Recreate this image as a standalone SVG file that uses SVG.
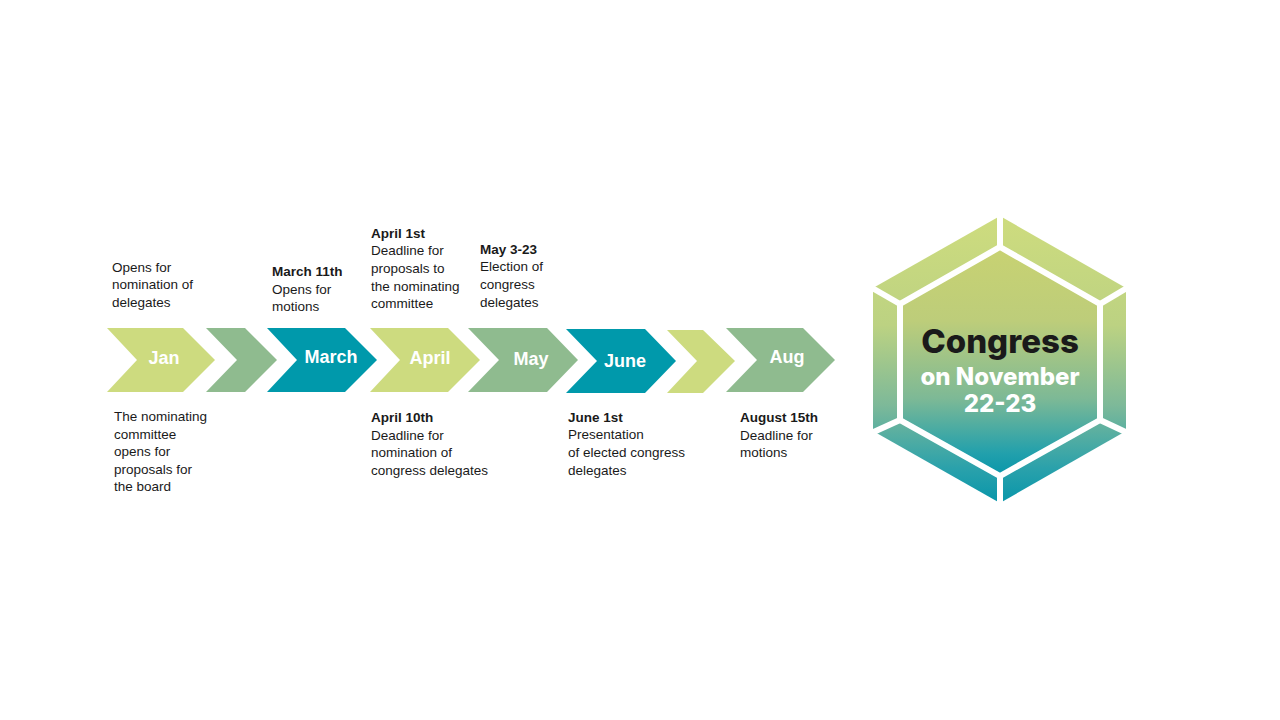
<svg xmlns="http://www.w3.org/2000/svg" width="1280" height="720" viewBox="0 0 1280 720">
<defs>
<style>
.lg{fill:#CDDB7F}.gr{fill:#8FBB8F}.te{fill:#0099AB}
.m{font-family:"Liberation Sans",Arial,sans-serif;font-weight:bold;font-size:18px;fill:#fff;text-anchor:middle}
.t{font-family:"Liberation Sans",Arial,sans-serif;font-size:13.5px;fill:#1a1a1a}
.b{font-weight:bold}
.h{font-family:Inter,"Liberation Sans",sans-serif;font-weight:800;text-anchor:middle}
</style>
<linearGradient id="go" gradientUnits="userSpaceOnUse" x1="0" y1="216" x2="0" y2="503">
<stop offset="0" stop-color="#CEDC7E"/><stop offset="0.38" stop-color="#BCD282"/><stop offset="0.66" stop-color="#7DB999"/><stop offset="0.88" stop-color="#2AA1AB"/><stop offset="1" stop-color="#0896AA"/>
</linearGradient>
<linearGradient id="gi" gradientUnits="userSpaceOnUse" x1="0" y1="248" x2="0" y2="476">
<stop offset="0" stop-color="#C8D272"/><stop offset="0.32" stop-color="#BDCD7A"/><stop offset="0.66" stop-color="#7DB996"/><stop offset="0.9" stop-color="#22A0AC"/><stop offset="1" stop-color="#0896AA"/>
</linearGradient>
</defs>
<rect width="1280" height="720" fill="#fff"/>
<g id="chevrons">
<g id="jan"><polygon class="lg" points="107,328 183,328 215,360 183,392 107,392 137,360"/><text class="m" x="164" y="364">Jan</text></g>
<g id="feb"><polygon class="gr" points="206,328 245,328 277,360 245,392 206,392 237,360"/></g>
<g id="march"><polygon class="te" points="267,328 345,328 377,360 345,392 267,392 297,360"/><text class="m" x="331" y="363">March</text></g>
<g id="april"><polygon class="lg" points="370,328 448,328 480,360 448,392 370,392 400,360"/><text class="m" x="430" y="364">April</text></g>
<g id="may"><polygon class="gr" points="468,328 547,328 578,360 547,392 468,392 499,360"/><text class="m" x="531" y="365">May</text></g>
<g id="june"><polygon class="te" points="566,329 645,329 676,361 645,393 566,393 597,361"/><text class="m" x="625" y="367">June</text></g>
<g id="july"><polygon class="lg" points="667,330 703,330 735,361 703,393 667,393 697,361"/></g>
<g id="aug"><polygon class="gr" points="726,328 803,328 835,360 803,392 726,392 757,360"/><text class="m" x="787" y="363">Aug</text></g>
</g>
<g id="notes-top">
<text class="t" x="112" y="272">Opens for</text>
<text class="t" x="112" y="289">nomination of</text>
<text class="t" x="112" y="307">delegates</text>
<text class="t b" x="272" y="276">March 11th</text>
<text class="t" x="272" y="294">Opens for</text>
<text class="t" x="272" y="311">motions</text>
<text class="t b" x="371" y="238">April 1st</text>
<text class="t" x="371" y="255">Deadline for</text>
<text class="t" x="371" y="273">proposals to</text>
<text class="t" x="371" y="291">the nominating</text>
<text class="t" x="371" y="308">committee</text>
<text class="t b" x="480" y="254">May 3-23</text>
<text class="t" x="480" y="271">Election of</text>
<text class="t" x="480" y="289">congress</text>
<text class="t" x="480" y="307">delegates</text>
</g>
<g id="notes-bottom">
<text class="t" x="114" y="421">The nominating</text>
<text class="t" x="114" y="439">committee</text>
<text class="t" x="114" y="456">opens for</text>
<text class="t" x="114" y="474">proposals for</text>
<text class="t" x="114" y="491">the board</text>
<text class="t b" x="371" y="422">April 10th</text>
<text class="t" x="371" y="440">Deadline for</text>
<text class="t" x="371" y="457">nomination of</text>
<text class="t" x="371" y="475">congress delegates</text>
<text class="t b" x="568" y="422">June 1st</text>
<text class="t" x="568" y="439">Presentation</text>
<text class="t" x="568" y="457">of elected congress</text>
<text class="t" x="568" y="475">delegates</text>
<text class="t b" x="740" y="422">August 15th</text>
<text class="t" x="740" y="440">Deadline for</text>
<text class="t" x="740" y="457">motions</text>
</g>
<g id="congress">
<polygon fill="url(#go)" points="1000,216 1126,288 1126,431 1000,503 873,431 873,288"/>
<g stroke="#fff" stroke-width="6">
<line x1="1000" y1="247" x2="1000" y2="210"/>
<line x1="1100" y1="304" x2="1132" y2="285"/>
<line x1="1100" y1="420" x2="1132" y2="435"/>
<line x1="1000" y1="476" x2="1000" y2="510"/>
<line x1="900" y1="420" x2="867" y2="435"/>
<line x1="900" y1="304" x2="867" y2="285"/>
</g>
<polygon fill="url(#gi)" stroke="#fff" stroke-width="6" stroke-linejoin="miter" points="1000,247 1100,304 1100,420 1000,476 900,420 900,304"/>
<text class="h" x="1000" y="353" font-size="33" fill="#1a1a1a">Congress</text>
<text class="h" x="1000" y="385" font-size="24" fill="#fff">on November</text>
<text class="h" x="1000" y="412" font-size="24" fill="#fff">22-23</text>
</g>
</svg>
